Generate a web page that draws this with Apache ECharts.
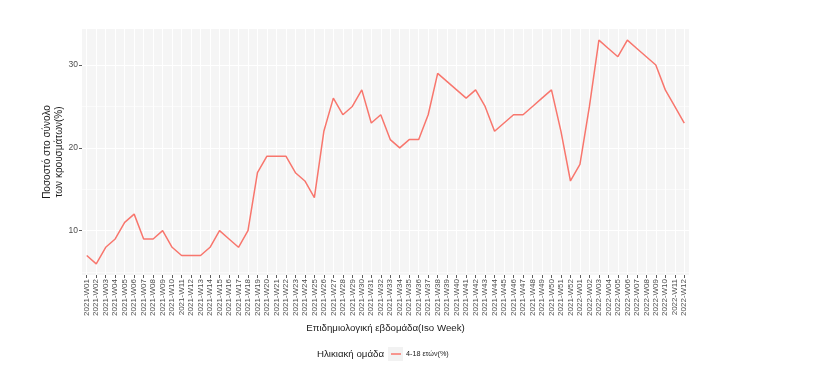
<!DOCTYPE html>
<html><head><meta charset="utf-8">
<script src="https://cdn.jsdelivr.net/npm/echarts@6/dist/echarts.min.js"></script>
<style>html,body{margin:0;padding:0;background:#fff}#c{width:826px;height:385px}</style>
</head><body><div id="c"></div>
<script>
const categories = [
 '2021-W01','2021-W02','2021-W03','2021-W04','2021-W05','2021-W06','2021-W07','2021-W08','2021-W09','2021-W10',
 '2021-W11','2021-W12','2021-W13','2021-W14','2021-W15','2021-W16','2021-W17','2021-W18','2021-W19','2021-W20',
 '2021-W21','2021-W22','2021-W23','2021-W24','2021-W25','2021-W26','2021-W27','2021-W28','2021-W29','2021-W30',
 '2021-W31','2021-W32','2021-W33','2021-W34','2021-W35','2021-W36','2021-W37','2021-W38','2021-W39','2021-W40',
 '2021-W41','2021-W42','2021-W43','2021-W44','2021-W45','2021-W46','2021-W47','2021-W48','2021-W49','2021-W50',
 '2021-W51','2021-W52','2022-W01','2022-W02','2022-W03','2022-W04','2022-W05','2022-W06','2022-W07','2022-W08',
 '2022-W09','2022-W10','2022-W11','2022-W12'];
const values_4_18 = [7,6,8,9,11,12,9,9,10,8,7,7,7,8,10,9,8,10,
 17,19,19,19,17,16,14,22,26,24,25,27,23,24,21,
 20,21,21,24,29,28,27,26,27,25,22,23,24,24,25,26,27,22,16,
 18,25,33,32,31,33,32,31,30,27,25,23];
const yMajorTicks = [10,20,30];
const yMinorTicks = [5,15,25];
const seriesName = '4-18 ετών(%)';
const legendTitle = 'Ηλικιακή ομάδα';
const xTitle = 'Επιδημιολογική εβδομάδα(Iso Week)';
const yTitle = 'Ποσοστό στο σύνολο\nτων κρουσμάτων(%)';

const FONT = '"Liberation Sans", Arial, sans-serif';
const chart = echarts.init(document.getElementById('c'), null, {renderer:'canvas'});
chart.setOption({
  animation:false,
  textStyle:{fontFamily:FONT},
  title:{text:legendTitle,right:442,top:349,padding:0,textStyle:{fontSize:9.7,fontWeight:'normal',color:'#1a1a1a',fontFamily:FONT}},
  graphic:[{type:'rect',left:388,top:347,shape:{width:15,height:14},style:{fill:'#F2F2F2'},z:0}],
  legend:{left:386,top:347,padding:[0,5],icon:'rect',itemWidth:10,itemHeight:1.5,itemGap:5,data:[seriesName],
    textStyle:{fontSize:7.2,color:'#1a1a1a',fontFamily:FONT,lineHeight:14}},
  grid:{left:82,right:137,top:29,bottom:110,show:true,backgroundColor:'#F5F5F5',borderWidth:0},
  xAxis:{type:'category',data:categories,boundaryGap:true,
    name:xTitle,nameLocation:'middle',nameGap:47,
    nameTextStyle:{fontSize:9.7,color:'#1a1a1a',fontFamily:FONT},
    axisLine:{show:false},
    axisTick:{show:true,alignWithLabel:true,interval:0,length:3,lineStyle:{color:'#333',width:0.8}},
    axisLabel:{interval:0,rotate:90,fontSize:8,color:'#4D4D4D',margin:4,fontFamily:FONT},
    splitLine:{show:true,alignWithLabel:true,interval:0,lineStyle:{color:'#ffffff',width:1}}},
  yAxis:[{type:'value',min:4.65,max:34.35,
    name:yTitle,nameLocation:'middle',nameGap:17,nameRotate:90,nameMoveOverlap:false,
    nameTextStyle:{fontSize:10,color:'#1a1a1a',fontFamily:FONT,lineHeight:12,align:'center'},
    axisLine:{show:false},
    axisTick:{show:true,length:3,customValues:yMajorTicks,lineStyle:{color:'#333',width:0.8}},
    axisLabel:{fontSize:8.5,color:'#4D4D4D',margin:4,customValues:yMajorTicks,fontFamily:FONT},
    splitLine:{show:true,lineStyle:{color:'#ffffff',width:1}}},
   {type:'value',min:4.65,max:34.35,position:'left',
    axisLine:{show:false},axisTick:{show:false,customValues:yMinorTicks},
    axisLabel:{show:false,customValues:yMinorTicks},
    splitLine:{show:true,lineStyle:{color:'#ffffff',width:0.6}}}],
  series:[{name:seriesName,type:'line',data:values_4_18,yAxisIndex:0,symbol:'none',
    lineStyle:{color:'#F8766D',width:1.5},itemStyle:{color:'#F8766D'}}]
});
</script></body></html>
